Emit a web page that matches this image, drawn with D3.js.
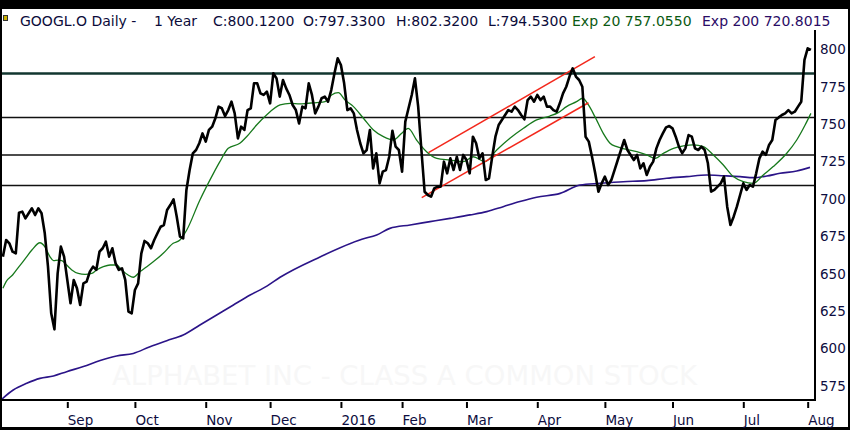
<!DOCTYPE html>
<html>
<head>
<meta charset="utf-8">
<script src="https://cdn.jsdelivr.net/npm/d3@7"></script>
<style>
  html, body { margin: 0; padding: 0; background: #000; }
  svg { display: block; }
  text { font-family: "DejaVu Sans", Verdana, sans-serif; }
</style>
</head>
<body>
<svg id="chart" width="850" height="430"></svg>
<script>
// GOOGL.O daily, one year.
// day = trading-day number (1 = first day shown)

const closes = [
  661.5, 672.6, 670.4, 664.8, 663.7, 690.9, 691.6, 687.1, 690.5, 693.8,
  689.3, 693.8, 690.5, 677.1, 654.8, 623.6, 612.9, 650.3, 668.2, 661.5,
  645.9, 630.3, 645.9, 640.3, 629.2, 643.6, 644.8, 651.5, 654.8, 652.6,
  664.8, 667.1, 671.5, 661.5, 667.1, 657.0, 652.6, 653.7, 645.9, 624.7,
  623.6, 639.2, 643.6, 663.7, 672.0, 670.4, 667.1, 672.6, 677.1, 681.5,
  682.6, 692.7, 696.0, 699.8, 688.2, 674.9, 673.7, 706.1, 719.4, 730.6,
  732.8, 737.3, 743.9, 738.4, 746.2, 748.4, 754.0, 761.8, 760.7, 755.5,
  759.5, 765.1, 757.3, 740.6, 748.4, 746.2, 759.5, 760.7, 777.4, 777.4,
  770.7, 769.6, 771.8, 764.0, 784.1, 780.7, 768.5,
  779.6, 774.0, 769.6, 762.9, 759.5, 750.6, 761.8, 760.7, 777.4, 769.6,
  757.3, 761.8, 767.4, 768.5, 765.1, 772.9, 784.1, 794.1, 789.6, 777.4,
  759.5, 760.7, 757.3, 746.2, 737.3, 730.6, 732.8, 746.2, 720.5, 730.6,
  710.5, 718.3, 719.4, 728.3, 745.7, 735.0, 732.8, 718.3, 751.8, 760.7,
  769.6, 780.7, 761.8, 732.8, 704.9, 702.7, 701.6, 707.2, 708.3, 708.3,
  725.0, 717.2, 727.2, 719.4, 728.3, 719.4, 729.5, 726.1, 717.2, 741.7,
  737.3, 727.2, 730.6, 712.7, 713.9, 728.3, 741.7, 749.5, 752.9, 756.2,
  759.5, 758.4, 761.8, 759.5, 756.2, 753.3, 766.2, 768.5, 765.1, 769.6,
  766.2, 768.5, 761.8,
  761.8, 759.5, 758.4, 764.0, 770.7, 775.1, 781.9, 787.4, 781.9, 779.6,
  775.1, 741.7, 738.4, 728.3, 717.2, 704.9, 710.5, 715.0, 709.4, 712.7,
  719.4, 726.1, 732.8, 739.5, 732.8, 729.5, 726.1, 729.5, 720.5, 723.9,
  716.1, 721.6, 725.0, 733.9, 739.5, 743.9, 747.9, 748.8, 747.3, 741.7,
  735.0, 730.6, 733.9, 742.8, 741.7, 733.9, 732.8, 735.0, 732.8, 723.9,
  704.9, 706.1, 708.3, 710.5, 715.0, 694.9, 682.7, 688.2, 694.9, 702.7,
  710.5, 706.1, 709.4, 708.3, 717.2, 727.2, 731.7, 729.5, 736.2, 739.5,
  752.9, 754.6, 756.2, 757.3, 759.5, 757.3, 758.4, 761.8, 765.1, 793.0,
  800.8, 799.7
];

// [day, value]
const ema20 = [
  [1,640.3],[2,644.8],[4,649.2],[6,654.8],[8,660.3],[10,665.9],[12.5,670.8],[14,668.2],
  [15.6,661.5],[16.7,658.8],[18.2,659.2],[19.3,658.8],[20.8,655.9],[22.4,652.6],[24.4,650.3],
  [26.5,649.7],[28.6,650.3],[30.1,652.6],[32.2,654.8],[34.3,655.9],[36.3,655.9],[37.9,652.6],
  [39.9,649.2],[41.5,647.7],[43.6,651.5],[45.7,654.8],[47.7,658.1],[50.8,663.7],[53.9,670.4],
  [56,672.6],[58.1,679.3],[62.2,699.4],[66.4,717.2],[68.4,725],[71,733.9],[74.6,737.3],
  [76.7,741.7],[79.8,749.5],[82.9,756.2],[87.1,762.9],[90.2,764],[93.3,763.6],[95.4,764],
  [98.5,764.5],[101.1,765.1],[103.1,769.6],[105.2,771.1],[107.3,766.2],[109.9,761.8],
  [113,754],[116.1,746.2],[119.2,741.7],[122.3,739.5],[124.9,744],[126.9,747.3],[129.5,739.5],
  [132.6,731.7],[135.8,727.2],[139.9,726.1],[144,725],[147.1,728.3],[150.8,725],[154.4,732.8],
  [158.5,740.6],[162.7,747.3],[166.8,752.9],[170.9,755.5],[173.5,757.8],[176.1,761.8],
  [179.2,765.1],[181.1,767.4],[182.9,762.9],[184.9,755.1],[187.5,743.9],[189.6,737.3],
  [191.7,735],[194.8,733.2],[197.9,731.7],[201,729.5],[203.6,727.2],[206.2,730.6],[209.3,733.9],
  [212.4,735.5],[215.5,736.2],[218.6,735],[221.7,729.5],[224.8,722.8],[227.9,715],[231,711.6],
  [234.1,710.5],[237.2,716.1],[240.3,721.7],[244.5,730.6],[247.6,739.5],[250.2,749.5],[252,757.3]
];

const ema200 = [
  [0.6,566.1],[4.2,572.3],[8.4,576.8],[12.5,580.1],[16.7,581.7],[20.8,584.6],[26,588],
  [31.2,592],[36.3,595.1],[41.5,596.8],[46.7,601.3],[51.9,605.3],[57,609.1],[62.2,615.8],
  [67.4,622.5],[72.6,629.2],[77.8,635.8],[83,641.8],[87.1,647.7],[99.5,661.3],[112.5,673.1],
  [117.1,676],[121.2,680.4],[127.5,682.7],[133.7,684.9],[139.9,687.1],[146.1,689.4],
  [151.3,691.6],[156.4,694.9],[161.6,698.3],[166.8,701.2],[174.1,703.8],[180.3,709.4],
  [186.5,710.5],[193.7,711.6],[201,712.3],[207.2,713.9],[213.4,715],[219.6,716.1],
  [224.8,715.6],[230,715],[234.1,714.3],[238.3,715.4],[242.4,717.2],[247.6,718.8],[251.7,721.2]
];

// horizontal support / resistance levels
const levels = [784, 754.5, 729.5, 709];

// trend channel: [[day, value], [day, value]]
const channel = [
  [[133.2, 731.0], [184.9, 795.2]],
  [[131.1, 700.9], [182.9, 764.4]]
];

const monthLabels = ['Sep', 'Oct', 'Nov', 'Dec', '2016', 'Feb', 'Mar', 'Apr', 'May', 'Jun', 'Jul', 'Aug'];
const monthDays   = [21, 42, 64, 84, 106, 125, 145, 167, 188, 209, 231, 251];
const priceTicks  = [575, 600, 625, 650, 675, 700, 725, 750, 775, 800];

const header = [
  {t: 'GOOGL.O Daily -', x: 20,  c: '#0b0b3a'},
  {t: '1 Year',          x: 154, c: '#0b0b3a'},
  {t: 'C:800.1200',      x: 213, c: '#0b0b3a'},
  {t: 'O:797.3300',      x: 303, c: '#0b0b3a'},
  {t: 'H:802.3200',      x: 396, c: '#0b0b3a'},
  {t: 'L:794.5300',      x: 488, c: '#0b0b3a'},
  {t: 'Exp 20 757.0550', x: 572, c: '#0b5a12'},
  {t: 'Exp 200 720.8015',x: 702, c: '#2a0c66'}
];

const W = 850, H = 430;
const PL = 2, PR = 815, PT = 30, PB = 400;

window.onload = main;

function main(){
  const svg = d3.select('#chart');

  // frame
  svg.append('rect').attr('x', 0).attr('y', 0).attr('width', W).attr('height', H).attr('fill', '#000');
  svg.append('rect').attr('x', 2).attr('y', 9).attr('width', W - 4).attr('height', H - 12).attr('fill', '#fff');

  const x = d3.scaleLinear().domain([0, 252]).range([-0.3, 810.9]);
  const y = d3.scaleLinear().domain([575, 800]).range([386, 49.5]);

  svg.append('defs').append('clipPath').attr('id', 'plot')
    .append('rect').attr('x', PL).attr('y', PT).attr('width', PR - PL).attr('height', PB - PT);

  // faint watermark
  svg.append('text')
    .attr('x', 112).attr('y', 385)
    .attr('font-size', 27).attr('fill', '#f7f7f7')
    .attr('textLength', 585).attr('lengthAdjust', 'spacingAndGlyphs')
    .text('ALPHABET INC - CLASS A COMMON STOCK');

  const g = svg.append('g').attr('clip-path', 'url(#plot)');

  g.selectAll('line.level').data(levels).enter().append('line')
    .attr('class', 'level')
    .attr('x1', PL).attr('x2', PR)
    .attr('y1', d => y(d)).attr('y2', d => y(d))
    .attr('stroke', (d, i) => i === 0 ? '#12362f' : '#111')
    .attr('stroke-width', (d, i) => i === 0 ? 2.6 : 1.5);

  const pairLine = d3.line().x(d => x(d[0])).y(d => y(d[1])).curve(d3.curveMonotoneX);

  g.append('path').datum(ema200)
    .attr('d', pairLine).attr('fill', 'none')
    .attr('stroke', '#2b1488').attr('stroke-width', 1.6);

  g.append('path').datum(ema20)
    .attr('d', pairLine).attr('fill', 'none')
    .attr('stroke', '#17791c').attr('stroke-width', 1.3);

  g.selectAll('line.chan').data(channel).enter().append('line')
    .attr('class', 'chan')
    .attr('x1', d => x(d[0][0])).attr('y1', d => y(d[0][1]))
    .attr('x2', d => x(d[1][0])).attr('y2', d => y(d[1][1]))
    .attr('stroke', '#f3281c').attr('stroke-width', 1.5);

  const closeLine = d3.line().x((d, i) => x(i + 1)).y(d => y(d));
  g.append('path').datum(closes)
    .attr('d', closeLine).attr('fill', 'none')
    .attr('stroke', '#000').attr('stroke-width', 2.6)
    .attr('stroke-linejoin', 'round');

  // plot borders
  svg.append('line').attr('x1', PR).attr('x2', PR).attr('y1', PT).attr('y2', PB + 1)
    .attr('stroke', '#000').attr('stroke-width', 2);
  svg.append('line').attr('x1', 0).attr('x2', PR + 1).attr('y1', PB).attr('y2', PB)
    .attr('stroke', '#000').attr('stroke-width', 2);

  // price axis on the right
  const yAxis = d3.axisRight(y).tickValues(priceTicks).tickSize(0).tickPadding(5);
  const ya = svg.append('g').attr('transform', `translate(${PR},0)`).call(yAxis);
  ya.select('.domain').remove();
  ya.selectAll('text').attr('font-family', '"DejaVu Sans", Verdana, sans-serif')
    .attr('font-size', 13.5).attr('fill', '#0d0d40');

  // month axis
  const xAxis = d3.axisBottom(x).tickValues(monthDays)
    .tickFormat((d, i) => monthLabels[i]).tickSize(6);
  const xa = svg.append('g').attr('transform', `translate(0,${PB + 2})`).call(xAxis);
  xa.select('.domain').remove();
  xa.selectAll('.tick line').attr('stroke', '#000').attr('stroke-width', 2);
  xa.selectAll('text')
    .attr('font-family', '"DejaVu Sans", Verdana, sans-serif')
    .attr('font-size', 13.5).attr('fill', '#0d0d40')
    .attr('text-anchor', 'start').attr('x', 0).attr('y', 23).attr('dy', 0);

  // header
  svg.append('rect').attr('x', 3.5).attr('y', 15.5).attr('width', 4).attr('height', 5)
    .attr('fill', '#c9b000').attr('stroke', '#333').attr('stroke-width', 1);
  svg.selectAll('text.hdr').data(header).enter().append('text')
    .attr('class', 'hdr')
    .attr('x', d => d.x).attr('y', 26)
    .attr('font-size', 14).attr('fill', d => d.c)
    .text(d => d.t);
}
</script>
</body>
</html>
